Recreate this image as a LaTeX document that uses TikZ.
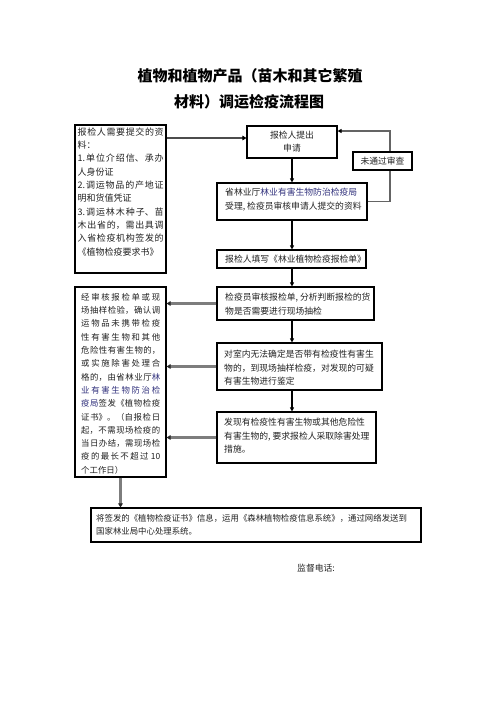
\documentclass[tikz,border=0pt]{standalone}
\usepackage{fontspec}
\setmainfont{Noto Sans CJK SC}
\usetikzlibrary{arrows.meta,calc}
\XeTeXlinebreaklocale "zh"
\XeTeXlinebreakskip=0pt plus 3pt
\definecolor{linkblue}{RGB}{50,50,125}
\definecolor{txtc}{RGB}{35,35,35}
\definecolor{arrgray}{RGB}{125,125,125}
\newcommand{\lb}[1]{{\color{linkblue}#1}}
\begin{document}
\begin{tikzpicture}[x=1pt,y=-1pt,
  box/.style={draw=black, line width=1.1pt, fill=white, inner sep=0pt},
  txt/.style={inner sep=0pt, text=txtc, font=\fontsize{8.8}{13.6}\selectfont, align=left, anchor=north west},
  jtxt/.style={inner sep=0pt, text=txtc, align=justify, anchor=north west},
  conn/.style={draw=black, line width=1.2pt, -{Triangle[length=4pt,width=4pt]}},
  garr/.style={draw=arrgray, line width=2.2pt, -{Triangle[length=4pt,width=4.5pt,color=black!85]}},
  loopline/.style={draw=arrgray!80!black, line width=1.1pt, -{Triangle[length=4pt,width=4pt,color=black]}},
  darr/.style={draw=black!70, line width=1.6pt, -{Triangle[length=4pt,width=4.5pt,color=black]}},
]
\useasboundingbox (0,0) rectangle (496,702);

% title
\node[font=\fontsize{15}{15}\bfseries\selectfont, inner sep=0pt] (t1) at (250,75.5) {植物和植物产品（苗木和其它繁殖};
\node[font=\fontsize{15}{15}\bfseries\selectfont, inner sep=0pt] (t2) at (249,102) {材料）调运检疫流程图};

% boxes
\node[box, minimum width=91pt, minimum height=148pt] (L1) at (120.5,199) {};
\node[box, minimum width=91pt, minimum height=190pt] (L2) at (120.5,382) {};
\node[box, minimum width=90pt, minimum height=32pt, align=center, text=txtc, font=\fontsize{8.8}{13}\selectfont] (A) at (292,142) {报检人提出\\申请};
\node[box, minimum width=150pt, minimum height=37pt] (B) at (292,201.5) {};
\node[box, minimum width=149pt, minimum height=18pt] (C) at (291.5,259) {};
\node[box, minimum width=157pt, minimum height=33pt] (D) at (295.5,303.5) {};
\node[box, minimum width=165pt, minimum height=47pt] (E) at (299.5,366.5) {};
\node[box, minimum width=159pt, minimum height=51pt] (G) at (296.5,437.5) {};
\node[box, minimum width=330pt, minimum height=34pt] (H) at (256,525) {};

% texts
\node[jtxt, text width=86pt, font=\fontsize{9}{13.3}\selectfont] (L1t) at (77.5,127.5) {报检人需要提交的资\linebreak
料：\newline
1.单位介绍信、承办\linebreak
人身份证\newline
2.调运物品的产地证\linebreak
明和货值凭证\newline
3.调运林木种子、苗\linebreak
木出省的，需出具调\linebreak
入省检疫机构签发的\linebreak
《植物检疫要求书》};

\node[jtxt, text width=79pt, font=\fontsize{8.4}{13.3}\selectfont] (L2t) at (81,293) {经审核报检单或现\linebreak
场抽样检验，确认调\linebreak
运物品未携带检疫\linebreak
性有害生物和其他\linebreak
危险性有害生物的，\linebreak
或实施除害处理合\linebreak
格的，由省林业厅\lb{林}\linebreak
\lb{业有害生物防治检}\linebreak
\lb{疫局}签发《植物检疫\linebreak
证书》。（自报检日\linebreak
起，不需现场检疫的\linebreak
当日办结，需现场检\linebreak
疫的最长不超过 10\linebreak
个工作日）};

\node[txt, font=\fontsize{8.8}{13.8}\selectfont] (Bt) at (225,188) {省林业厅\lb{林业有害生物防治检疫局}\\受理, 检疫员审核申请人提交的资料};
\node[txt, anchor=west] (Ct) at (225,259) {报检人填写《林业植物检疫报检单》};
\node[txt] (Dt) at (225,293) {检疫员审核报检单, 分析判断报检的货\\物是否需要进行现场抽检};
\node[txt] (Et) at (224,350) {对室内无法确定是否带有检疫性有害生\\物的，到现场抽样检疫，对发现的可疑\\有害生物进行鉴定};
\node[txt] (Gt) at (224,418) {发现有检疫性有害生物或其他危险性\\有害生物的, 要求报检人采取除害处理\\措施。};
\node[txt, font=\fontsize{8.4}{13.3}\selectfont] (Ht) at (96,514) {将签发的《植物检疫证书》信息，运用《森林植物检疫信息系统》，通过网络发送到\\国家林业局中心处理系统。};

% connectors
\coordinate (yA) at (0,138);
\draw[darr] (L1.east |- yA) -- (A.west |- yA);
\draw[conn] (A.south) -- (A.south |- B.north);
\coordinate (xL) at (390,0);
\coordinate (yT) at (0,131);
\draw[loopline] (B.east) -- (B.east -| xL) -- (xL |- yT) -- (A.east |- yT);
\node[box, minimum width=59pt, minimum height=18pt, text=txtc, font=\fontsize{8.8}{13}\selectfont] (F) at (382.5,161) {未通过审查};
\draw[conn] (B.south) -- (B.south |- C.north);
\draw[conn] (B.south |- C.south) -- (B.south |- D.north);
\draw[garr] (D.west) -- (D.west -| L2.east);
\draw[conn] (B.south |- D.south) -- (B.south |- E.north);
\draw[garr] (E.west) -- (E.west -| L2.east);
\draw[conn] (B.south |- E.south) -- (B.south |- G.north);
\draw[garr] (G.west) -- (G.west -| L2.east);
\draw[garr] (L2.south) -- (L2.south |- H.north);

\node[txt, anchor=west] (tel) at (297,568) {监督电话:};
\end{tikzpicture}
\end{document}
